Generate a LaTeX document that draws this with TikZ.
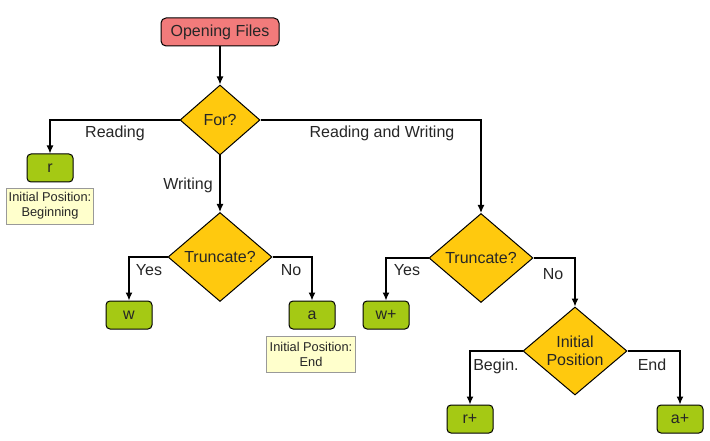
\documentclass[tikz,border=0pt]{standalone}
\usepackage{fontspec}
\setmainfont{Liberation Sans}
\usetikzlibrary{shapes.geometric,arrows.meta}
\definecolor{startred}{HTML}{F27B7B}
\definecolor{askgold}{HTML}{FFC90E}
\definecolor{modegreen}{HTML}{A5C914}
\definecolor{notecream}{HTML}{FFFFCC}
\begin{document}
\begin{tikzpicture}[x=1pt,y=-1pt,
  every node/.style={font=\fontsize{16}{18}\selectfont,text=black!85},
  start/.style={draw,line width=1pt,fill=startred,rounded corners=5pt,minimum width=118pt,minimum height=28pt,inner sep=0pt},
  ask/.style={draw,line width=1pt,fill=askgold,diamond,inner sep=0pt,align=center},
  mode/.style={draw,line width=1pt,fill=modegreen,rounded corners=4pt,minimum width=46pt,minimum height=28pt,inner sep=0pt},
  note/.style={draw=black!40,fill=notecream,align=center,font=\fontsize{12.8}{15}\selectfont,minimum width=89pt,minimum height=36pt,inner sep=1pt},
  flow/.style={line width=1.2pt,-{Latex[length=8pt,width=7pt]}}]
\useasboundingbox (0,0) rectangle (710,441);
\node[start] (open) at (220,32) {Opening Files};
\node[ask,minimum width=80pt,minimum height=70pt] (for) at (220,120) {For?};
\node[mode] (r) at (50,168) {r};
\node[note,minimum width=87pt] (rpos) at (50,206) {Initial Position:\\Beginning};
\node[ask,minimum width=104pt,minimum height=89pt] (trunc) at (220,257) {Truncate?};
\node[mode] (w) at (129,315) {w};
\node[mode] (a) at (312,315) {a};
\node[note] (apos) at (311,354) {Initial Position:\\End};
\node[ask,minimum width=104pt,minimum height=89pt] (truncb) at (481,258) {Truncate?};
\node[mode] (wplus) at (386,315) {w+};
\node[ask,minimum width=104pt,minimum height=88pt] (initpos) at (575,351) {Initial\\Position};
\node[mode] (rplus) at (470,419) {r+};
\node[mode] (aplus) at (680,419) {a+};
\node (lread) at (115,133) {Reading};
\node (lwrite) at (188,185) {Writing};
\node (lboth) at (382,133) {Reading and Writing};
\node (lyes) at (149,270) {Yes};
\node (lno) at (291,270) {No};
\node (lyesb) at (407,270) {Yes};
\node (lnob) at (553,274) {No};
\node (lbegin) at (496,366) {Begin.};
\node (lend) at (652,365) {End};
\draw[flow] (open) -- (for);
\draw[flow] (for.west) -| (r.north);
\draw[flow] (for.south) -- (trunc.north);
\draw[flow] (for.east) -| (truncb.north);
\draw[flow] (trunc.west) -| (w.north);
\draw[flow] (trunc.east) -| (a.north);
\draw[flow] (truncb.west) -| (wplus.north);
\draw[flow] (truncb.east) -| (initpos.north);
\draw[flow] (initpos.west) -| (rplus.north);
\draw[flow] (initpos.east) -| (aplus.north);
\end{tikzpicture}
\end{document}
